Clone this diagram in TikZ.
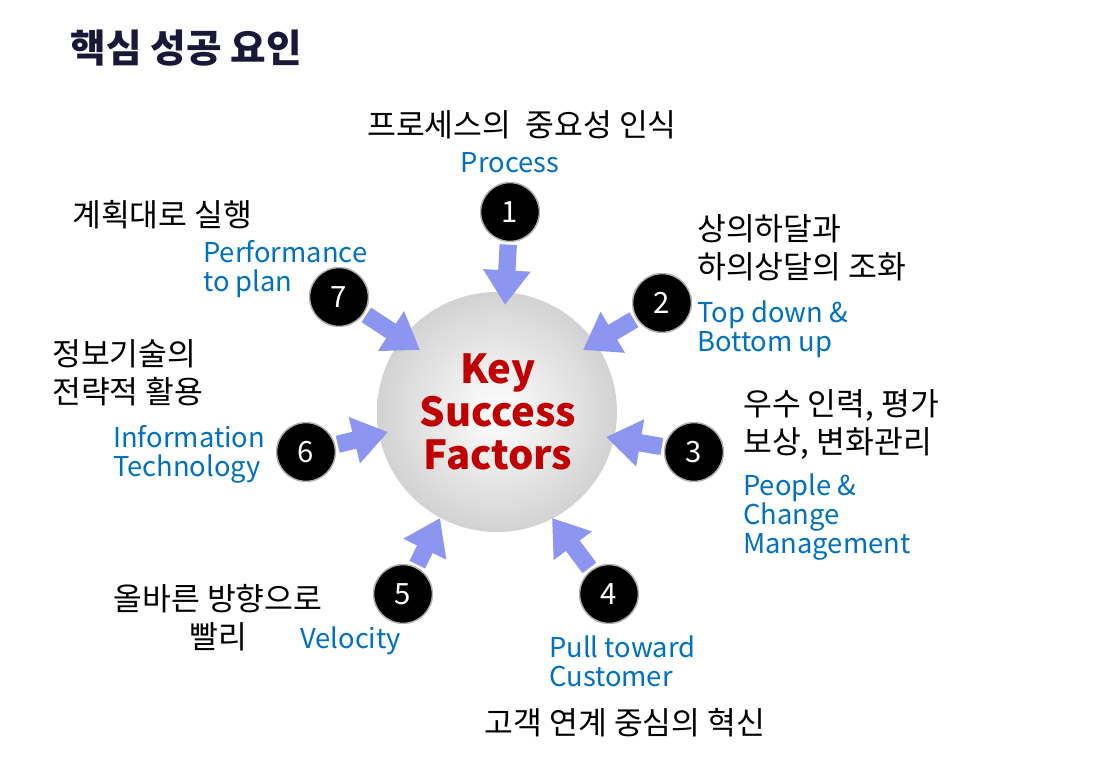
\documentclass[tikz,border=0pt]{standalone}
\usepackage{fontspec}
\setmainfont{Noto Sans CJK KR}
\usetikzlibrary{arrows.meta}
\definecolor{kblue}{RGB}{0,112,192}
\definecolor{kred}{RGB}{192,0,0}
\definecolor{arr}{RGB}{140,150,240}
\tikzset{
 kor/.style={font=\fontsize{23.5}{28.5}\selectfont, align=left, inner sep=0pt},
 eng/.style={font=\fontsize{20.5}{22}\selectfont, text=kblue, align=left, inner sep=0pt},
 badge/.style={circle, fill=black, draw=gray!60, line width=1pt, minimum size=44pt, text=white, font=\fontsize{22}{22}\selectfont},
 fat/.style={draw=arr, line width=13pt, -{Triangle[width=34pt,length=26pt]}, shorten <=2pt}
}
\begin{document}
\begin{tikzpicture}[x=0.75pt,y=-0.75pt]
\useasboundingbox (0,0) rectangle (1095,778);
\fill[white] (0,0) rectangle (1095,778);
\node[font=\fontsize{29}{30}\selectfont\bfseries, text={rgb,255:red,25;green,25;blue,55}, anchor=west] (title) at (66,48) {핵심 성공 요인};
\shade[inner color=white, outer color=gray!35] (497,412) circle (120);
\shade[inner color=white, outer color=white, opacity=0.0] (497,412) circle (1);
\node[font=\fontsize{30}{32}\selectfont\bfseries, text=kred, align=center] (ksf) at (498,412) {Key\\Success\\Factors};
\coordinate (c1) at (505,305);
\coordinate (c2) at (583,350);
\coordinate (c3) at (606,437);
\coordinate (c4) at (552,518);
\coordinate (c5) at (440,518);
\coordinate (c6) at (388,432);
\coordinate (c7) at (420,350);
\node[badge] (b1) at (510,212) {1};
\node[badge] (b2) at (662,303) {2};
\node[badge] (b3) at (694,452) {3};
\node[badge] (b4) at (609,594) {4};
\node[badge] (b5) at (403,594) {5};
\node[badge] (b6) at (306,452) {6};
\node[badge] (b7) at (339,297) {7};
\foreach \i in {1,...,7} {\draw[fat] (b\i) -- (c\i);}
\foreach \i in {1,...,7} {\node[badge] at (b\i) {\i};}
\node[kor] (t1) at (522,125) {프로세스의\ \ 중요성 인식};
\node[eng] (e1) at (510,163) {Process};
\node[kor, anchor=west] (t7) at (72,215) {계획대로 실행};
\node[eng, anchor=north west] (e7) at (203,240) {Performance\\to plan};
\node[kor, anchor=north west] (t2) at (697,214) {상의하달과\\하의상달의 조화};
\node[eng, anchor=north west] (e2) at (697,300) {Top down \&\\Bottom up};
\node[kor, anchor=north west] (t3) at (743,389) {우수 인력, 평가\\보상, 변화관리};
\node[eng, anchor=north west] (e3) at (743,473) {People \&\\Change\\Management};
\node[eng, anchor=north west] (e4) at (549,635) {Pull toward\\Customer};
\node[kor] (t4) at (625,723) {고객 연계 중심의 혁신};
\node[kor, align=center, anchor=north] (t5) at (218,584) {올바른 방향으로\\빨리};
\node[eng, anchor=west] (e5) at (300,641) {Velocity};
\node[kor, anchor=north west] (t6) at (52,339) {정보기술의\\전략적 활용};
\node[eng, anchor=north west] (e6) at (113,425) {Information\\Technology};
\end{tikzpicture}
\end{document}
